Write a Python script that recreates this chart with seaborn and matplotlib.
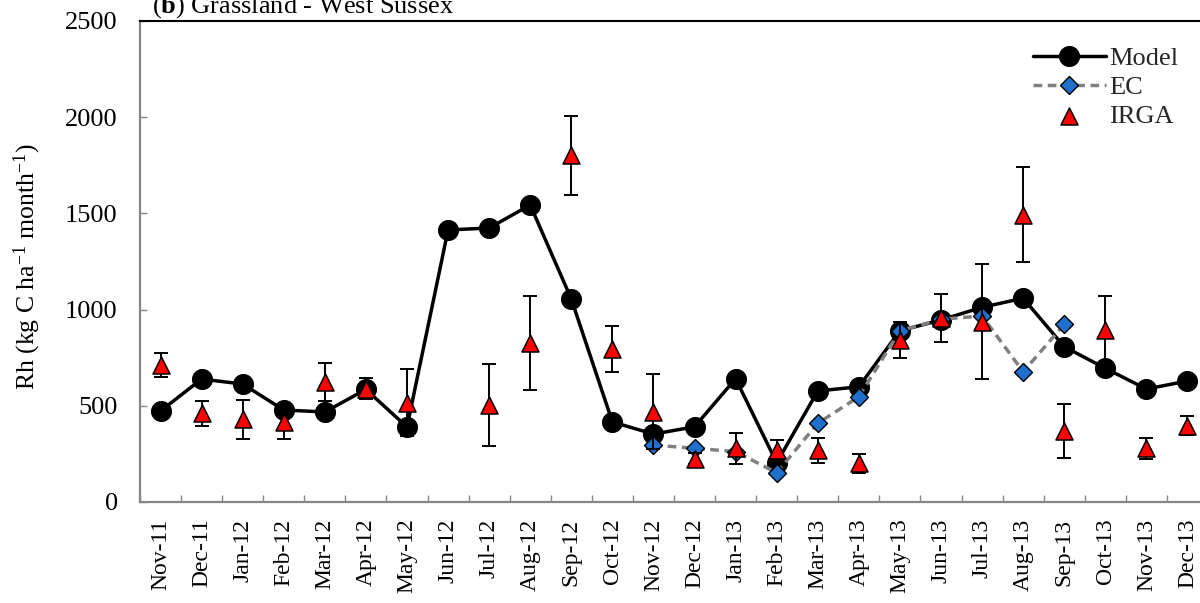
import numpy as np
import pandas as pd
import matplotlib
matplotlib.use("Agg")
import matplotlib.pyplot as plt
from matplotlib.ticker import FixedLocator
import seaborn as sns

# Monthly heterotrophic respiration, grassland site
months = ["Nov-11", "Dec-11", "Jan-12", "Feb-12", "Mar-12", "Apr-12", "May-12",
          "Jun-12", "Jul-12", "Aug-12", "Sep-12", "Oct-12", "Nov-12", "Dec-12",
          "Jan-13", "Feb-13", "Mar-13", "Apr-13", "May-13", "Jun-13", "Jul-13",
          "Aug-13", "Sep-13", "Oct-13", "Nov-13", "Dec-13"]

model = [473, 639, 613, 478, 468, 585, 390, 1414, 1424, 1544, 1055, 416, 353,
         391, 641, 204, 577, 599, 890, 946, 1012, 1059, 807, 695, 587, 629]

ec_months = ["Nov-12", "Dec-12", "Jan-13", "Feb-13", "Mar-13", "Apr-13",
             "May-13", "Jun-13", "Jul-13", "Aug-13", "Sep-13"]
ec = [296, 279, 262, 152, 409, 547, 890, 950, 967, 677, 923]

irga = [712, 461, 430, 418, 625, 589, 516, np.nan, 504, 828, 1803, 795, 469,
        226, 279, 270, 270, 201, 842, 955, 937, 1492, 371, 894, 279, 397]
irga_err = [60, 65, 100, 92, 100, 55, 175, np.nan, 212, 245, 205, 120, 195,
            30, 80, 50, 65, 48, 92, 125, 300, 247, 140, 175, 55, 50]

model_df = pd.DataFrame({"month": months, "rh": model})
ec_df = pd.DataFrame({"month": ec_months, "rh": ec})
irga_df = pd.DataFrame({"month": months, "rh": irga, "err": irga_err})

sns.set_theme(style="white")
plt.rcParams["font.family"] = ["Liberation Serif", "DejaVu Serif"]
plt.rcParams["mathtext.fontset"] = "custom"
plt.rcParams["mathtext.rm"] = "Liberation Serif"
plt.rcParams["mathtext.it"] = "Liberation Serif:italic"
plt.rcParams["mathtext.bf"] = "Liberation Serif:bold"

fig = plt.figure(figsize=(12, 6.03), dpi=100)
fig.patch.set_facecolor("white")
ax = fig.add_axes([140 / 1200, 1 - 502 / 603, 1068 / 1200, 481 / 603])

sns.lineplot(data=model_df, x="month", y="rh", sort=False, ax=ax,
             color="black", linewidth=2.5, marker="o", markersize=14.4,
             markeredgecolor="black", label="Model", zorder=2)
sns.lineplot(data=ec_df, x="month", y="rh", sort=False, ax=ax,
             color="#808080", linewidth=2.5, linestyle=(0, (2.5, 1.6)),
             marker="D", markersize=9, markerfacecolor="#1f6fcc",
             markeredgecolor="black", markeredgewidth=1.0, label="EC", zorder=3)

valid = irga_df.dropna()
ax.errorbar(valid["month"], valid["rh"], yerr=valid["err"], fmt="none",
            ecolor="black", elinewidth=1.4, capsize=5, capthick=1.4, zorder=4)
sns.scatterplot(data=valid, x="month", y="rh", ax=ax, marker="^", s=150,
                color="#ff0000", edgecolor="black", linewidth=1.1,
                label="IRGA", zorder=5)

ax.set_xlim(-0.5, len(months) - 0.5)
ax.set_ylim(0, 2500)
ax.set_yticks(np.arange(0, 2501, 500))

ax.xaxis.set_minor_locator(FixedLocator(np.arange(-0.5, len(months), 1.0)))
ax.tick_params(axis="x", which="major", length=0, pad=12, labelsize=17,
               labelrotation=90, labelcolor="black")
ax.tick_params(axis="x", which="minor", direction="in", length=5,
               width=1.0, color="#868686", bottom=True)
ax.tick_params(axis="y", direction="in", length=5, width=1.0,
               color="#868686", pad=16, labelsize=19, left=True,
               labelcolor="black")

for side in ["left", "bottom"]:
    ax.spines[side].set_color("#868686")
    ax.spines[side].set_linewidth(1.6)
ax.spines["top"].set_color("black")
ax.spines["top"].set_linewidth(1.5)
ax.spines["right"].set_visible(False)

ax.set_xlabel("")
ax.set_ylabel(r"Rh (kg C ha$^{\mathregular{-1}}$ month$^{\mathregular{-1}}$)",
              fontsize=18.5, color="black")
ax.yaxis.set_label_coords(-0.091, 0.49)

ax.legend(loc="upper left", bbox_to_anchor=(1033 / 1200, 1 - 47 / 603),
          bbox_transform=fig.transFigure, frameon=False, fontsize=19,
          handlelength=2.75, handletextpad=0.15, borderpad=0,
          labelspacing=0.2, borderaxespad=0)

fig.text(152 / 1200, 1 - 13 / 603, r"($\mathbf{b}$) Grassland - West Sussex",
         fontsize=19, va="baseline", ha="left", color="black")

fig.savefig("out.png", dpi=100, facecolor="white")
